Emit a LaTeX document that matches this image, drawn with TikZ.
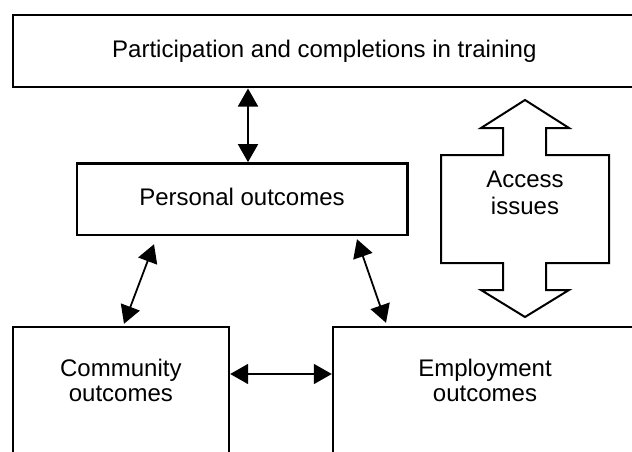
\documentclass[tikz,border=0pt]{standalone}
\usepackage{fontspec}
\setmainfont{Liberation Sans}
\usetikzlibrary{arrows.meta}
\tikzset{
  box/.style={draw=black, line width=2.4pt, fill=white, inner sep=0pt, align=center,
    font=\fontsize{24}{24.5}\selectfont, text height=17.5pt, text depth=5pt},
  link/.style={line width=1.8pt, {Triangle[length=18pt,width=20pt]}-{Triangle[length=18pt,width=20pt]}},
  bigarrow/.style={draw=black, line width=2pt, fill=white, line join=miter},
  lbl/.style={inner sep=0pt, align=center, font=\fontsize{24}{27}\selectfont, text height=17.5pt, text depth=5pt}
}
\begin{document}
\begin{tikzpicture}[x=1pt, y=-1pt]
\useasboundingbox (0,0) rectangle (632,452);
\clip (0,0) rectangle (632,452);
\fill[white] (0,0) rectangle (632,452);

\node[box, minimum width=623.3pt, minimum height=72pt] (train) at (324.35,51.3) {Participation and completions in training};
\node[box, minimum width=330.6pt, minimum height=71.7pt] (pers) at (242,199.2) {Personal outcomes};
\node[box, minimum width=216.3pt, minimum height=136pt] (comm) at (120.85,395) {Community\\outcomes};
\node[box, minimum width=304pt, minimum height=136pt] (emp) at (485,395) {Employment\\outcomes};

\draw[link] ([xshift=-76.35pt]train.south) -- ([xshift=6pt]pers.north);
\draw[link] ([xshift=-88pt,yshift=-8pt]pers.south) -- ([xshift=3.15pt,yshift=2pt]comm.north);
\draw[link] ([xshift=115pt,yshift=-3pt]pers.south) -- ([xshift=-99pt,yshift=3pt]emp.north);
\draw[link] ([yshift=21pt]comm.east) -- ([yshift=21pt]emp.west);

\draw[bigarrow] (525,100) -- (569,128) -- (546,128) -- (546,155) -- (609,155) -- (609,263)
  -- (546,263) -- (546,290) -- (569,290) -- (525,317) -- (481,290) -- (503,290) -- (503,263)
  -- (441,263) -- (441,155) -- (503,155) -- (503,128) -- (481,128) -- cycle;
\node[lbl] (acc) at (525,208) {Access\\issues};
\end{tikzpicture}
\end{document}
